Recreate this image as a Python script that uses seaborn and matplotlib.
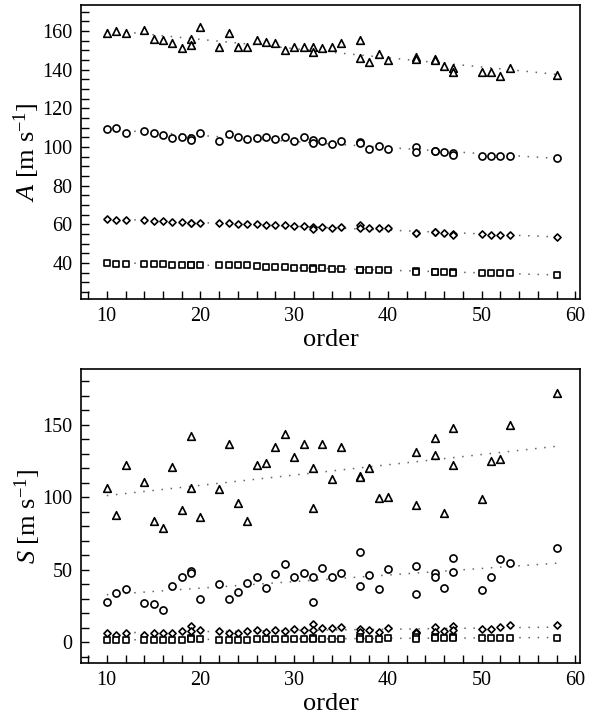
import matplotlib
matplotlib.use("Agg")
import matplotlib.pyplot as plt
import seaborn as sns
import numpy as np
import pandas as pd
from matplotlib.ticker import MultipleLocator

# ---------------- data ----------------
orders = [10, 11, 12, 14, 15, 16, 17, 18, 19, 19, 20, 22, 23, 24, 25, 26, 27, 28, 29, 30,
          31, 32, 32, 33, 34, 35, 37, 37, 38, 39, 40, 43, 43, 45, 45, 46, 47, 47, 50, 51,
          52, 53, 58]

A_tri = [158.8, 160.0, 158.8, 160.5, 155.9, 155.3, 153.6, 151.0, 155.9, 152.8, 162.2, 151.9,
         158.8, 151.5, 151.9, 155.3, 154.5, 153.6, 150.2, 151.9, 151.9, 151.5, 149.0, 151.0,
         151.9, 153.6, 155.3, 145.9, 144.1, 148.0, 145.0, 146.5, 145.7, 145.3, 145.0, 142.0,
         141.0, 138.6, 138.6, 138.6, 136.7, 141.0, 137.2]
A_cir = [109.1, 110.0, 107.1, 108.3, 107.4, 106.2, 104.5, 105.3, 104.4, 103.8, 107.1, 103.3,
         106.5, 105.3, 104.0, 104.5, 104.9, 104.0, 105.1, 103.3, 105.1, 103.6, 101.9, 103.3,
         101.4, 102.9, 102.7, 102.3, 98.8, 100.5, 98.8, 100.2, 97.6, 98.1, 97.9, 97.6,
         97.0, 95.9, 95.3, 95.3, 95.3, 95.3, 94.1]
A_dia = [63.0, 62.5, 62.0, 62.0, 61.8, 61.5, 61.3, 61.0, 60.9, 60.6, 60.8, 60.5,
         60.5, 60.2, 60.2, 60.1, 59.9, 59.7, 59.5, 59.0, 59.0, 58.6, 57.8, 58.6,
         58.0, 58.5, 59.5, 58.0, 58.2, 58.2, 58.2, 55.7, 55.4, 56.2, 55.9, 55.7,
         55.0, 54.6, 55.0, 54.5, 54.5, 54.5, 53.3]
A_sq = [40.1, 39.5, 39.5, 39.5, 39.5, 39.5, 39.2, 39.2, 39.2, 39.0, 39.2, 38.9,
        38.9, 38.9, 38.9, 38.5, 38.2, 38.2, 38.2, 37.6, 37.6, 37.3, 37.1, 37.3,
        37.1, 37.1, 36.5, 36.2, 36.3, 36.3, 36.3, 35.8, 35.5, 35.5, 35.3, 35.5,
        35.2, 34.9, 34.9, 34.9, 34.9, 34.7, 33.8]

S_tri = [106.7, 87.9, 122.3, 110.4, 83.9, 79.1, 120.8, 91.3, 142.3, 106.3, 86.7, 105.6,
         136.6, 96.3, 83.9, 122.3, 123.5, 134.6, 143.5, 128.1, 136.8, 120.1, 92.9, 136.8,
         112.7, 135.0, 115.0, 114.3, 120.0, 99.4, 100.5, 131.1, 94.8, 140.8, 129.2, 89.0,
         148.1, 122.3, 98.9, 125.1, 126.5, 149.9, 171.8]
S_cir = [28.1, 34.3, 36.8, 27.0, 26.5, 22.3, 39.1, 45.3, 49.5, 48.1, 29.9, 40.3,
         29.9, 35.0, 40.8, 44.9, 37.3, 47.0, 53.9, 45.3, 47.6, 44.9, 27.6, 51.1,
         44.9, 48.2, 62.6, 39.1, 46.5, 36.6, 50.4, 52.9, 33.4, 47.6, 45.3, 37.7,
         58.0, 48.3, 36.1, 44.9, 57.3, 54.6, 64.9]
S_dia = [6.3, 4.9, 6.3, 4.9, 6.3, 6.3, 6.8, 7.9, 11.5, 7.9, 8.5, 7.9,
         6.8, 6.3, 7.9, 8.5, 7.4, 8.5, 7.9, 9.0, 8.5, 12.7, 8.9, 9.7,
         10.1, 10.4, 9.0, 7.4, 8.5, 6.9, 9.7, 7.4, 6.5, 10.4, 7.4, 8.1,
         11.3, 8.5, 9.0, 9.0, 10.4, 12.0, 11.8]
S_sq = [1.5, 1.5, 1.8, 1.5, 1.8, 1.8, 2.0, 2.0, 3.0, 2.5, 2.2, 1.8,
        2.0, 2.0, 2.0, 2.2, 2.2, 2.3, 2.3, 2.5, 2.3, 3.0, 2.5, 2.5,
        2.5, 2.7, 3.5, 2.5, 2.5, 2.7, 2.8, 3.5, 2.5, 3.5, 3.0, 3.0,
        3.8, 3.0, 2.8, 2.8, 2.8, 3.0, 3.0]

# ---------------- style ----------------
sns.set_theme(style="ticks")
plt.rcParams["font.family"] = ["Liberation Serif", "DejaVu Serif"]
plt.rcParams["mathtext.fontset"] = "custom"
plt.rcParams["mathtext.rm"] = "Liberation Serif"
plt.rcParams["mathtext.it"] = "Liberation Serif:italic"
plt.rcParams["text.color"] = "black"
plt.rcParams["axes.labelcolor"] = "black"
plt.rcParams["xtick.color"] = "black"
plt.rcParams["ytick.color"] = "black"

fig = plt.figure(figsize=(5.95, 7.2), dpi=100)
ax1 = fig.add_axes([81 / 595, 1 - 299 / 720, 499 / 595, 294 / 720])
ax2 = fig.add_axes([81 / 595, 1 - 663 / 720, 499 / 595, 294 / 720])

marker_specs = [("^", 30), ("o", 26), ("D", 13), ("s", 19)]


def draw(ax, series):
    for (mk, sz), vals in zip(marker_specs, series):
        df = pd.DataFrame({"order": orders, "val": vals})
        sns.regplot(data=df, x="order", y="val", ax=ax, scatter=False, ci=None,
                    truncate=True,
                    line_kws=dict(color="#666666", lw=1.1, ls=(0, (1, 5)), zorder=1))
        sns.scatterplot(data=df, x="order", y="val", ax=ax, marker=mk, s=sz,
                        facecolor="white", edgecolor="black", linewidth=1.2,
                        zorder=3, legend=False)


draw(ax1, [A_tri, A_cir, A_dia, A_sq])
draw(ax2, [S_tri, S_cir, S_dia, S_sq])

ax1.set_xlim(7.25, 60.5)
ax2.set_xlim(7.25, 60.5)
ax1.set_ylim(21.4, 173.4)
ax2.set_ylim(-14.2, 188.6)

ax1.yaxis.set_major_locator(MultipleLocator(20))
ax1.yaxis.set_minor_locator(MultipleLocator(5))
ax2.yaxis.set_major_locator(MultipleLocator(50))
ax2.yaxis.set_minor_locator(MultipleLocator(10))

for ax in (ax1, ax2):
    ax.xaxis.set_major_locator(MultipleLocator(10))
    ax.xaxis.set_minor_locator(MultipleLocator(2))
    ax.tick_params(which="both", direction="in", length=6, width=1.0,
                   top=False, right=False, labelsize=14.5, pad=6,
                   colors="black", labelcolor="black")
    for sp in ax.spines.values():
        sp.set_linewidth(1.2)
        sp.set_color("black")
        sp.set_visible(True)
    ax.set_xlabel("order", fontsize=19, labelpad=2, color="black")

ax1.set_ylabel(r"$\mathit{A}$ [m s$^{\mathrm{-1}}$]", fontsize=19, labelpad=0,
               color="black")
ax2.set_ylabel(r"$\mathit{S}$ [m s$^{\mathrm{-1}}$]", fontsize=19, labelpad=0,
               color="black")

fig.savefig("out.png", dpi=100)
